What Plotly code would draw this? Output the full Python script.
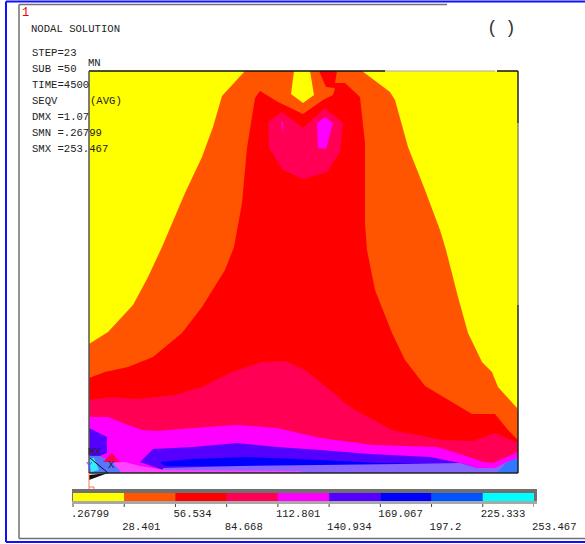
import plotly.graph_objects as go

levels = [0.26799, 28.401, 56.534, 84.668, 112.801, 140.934, 169.067, 197.2, 225.333, 253.467]
level_labels = [".26799", "28.401", "56.534", "84.668", "112.801", "140.934", "169.067", "197.2", "225.333", "253.467"]
band_colors = ["#FFFF00", "#FF5500", "#FF0000", "#FF0055", "#FF00FF", "#5500FF", "#0000FF", "#0055FF", "#00FFFF"]

info_lines = ["STEP=23", "SUB =50", "TIME=4500", "SEQV", "DMX =1.07", "SMN =.26799", "SMX =253.467"]
info_rows = [53, 69, 85, 101, 117, 133, 149]

domain_x = [89, 518, 518, 89]
domain_y = [71, 71, 473, 473]

orange_x = [89, 108, 133, 148, 162, 185, 202, 213, 222, 245, 362, 390, 395, 408, 425, 440, 446, 458, 468, 482, 492, 498, 517, 518, 518, 89]
orange_y = [344, 332, 305, 277, 247, 193, 157, 127, 96, 71, 71, 92, 100, 147, 190, 230, 250, 297, 333, 362, 372, 387, 408, 412, 473, 473]

pocket_x = [294, 310, 314, 303, 291]
pocket_y = [71, 71, 95, 103, 94]

red_x = [89, 105, 128, 153, 182, 202, 225, 234, 242, 247, 255, 260, 278, 303, 323, 333, 335, 326, 319, 337, 335, 345, 360, 365, 365, 367, 375, 392, 405, 425, 472, 495, 508, 518, 518, 89]
red_y = [378, 372, 367, 357, 333, 307, 270, 247, 203, 148, 98, 91, 102, 114, 100, 95, 88, 87, 71, 71, 83, 83, 97, 143, 223, 250, 290, 333, 360, 386, 414, 414, 430, 440, 473, 473]

crimson_x = [89, 112, 135, 175, 202, 232, 262, 285, 305, 330, 345, 355, 392, 443, 473, 495, 518, 518, 89]
crimson_y = [400, 397, 399, 395, 387, 372, 362, 361, 370, 390, 403, 410, 430, 440, 441, 433, 443, 473, 473]

heart_x = [282, 268, 269, 283, 303, 327, 340, 343, 325, 303]
heart_y = [112, 122, 148, 170, 179, 172, 152, 123, 108, 128]

spot_a_x = [317, 325, 333, 326, 318]
spot_a_y = [123, 117, 123, 149, 148]
spot_b_x = [281, 283, 283]
spot_b_y = [122, 122, 133]

magenta_x = [89, 108, 128, 142, 157, 193, 237, 277, 320, 373, 437, 463, 483, 493, 518, 518, 89]
magenta_y = [417, 417, 425, 430, 431, 428, 425, 428, 438, 445, 447, 455, 462, 463, 452, 473, 473]

violet_x = [140, 153, 193, 237, 277, 320, 370, 430, 460, 477, 163]
violet_y = [462, 449, 447, 443, 447, 450, 454, 457, 463, 468, 470]

blue_x = [160, 193, 247, 320, 380, 460, 470, 165]
blue_y = [462, 459, 457, 460, 463, 464, 466, 466]

peri_x = [163, 240, 320, 400, 460, 477, 495, 507, 518, 518, 163]
peri_y = [468, 466, 465, 464, 463, 468, 468, 462, 458, 473, 473]

pink_x = [105, 125, 140, 165, 300, 305, 105]
pink_y = [463, 462, 466, 470, 471, 473, 473]

hot_x = [507, 518, 518, 497]
hot_y = [462, 458, 473, 473]

left_x = [89, 107, 107, 97, 89]
left_y = [428, 437, 453, 457, 457]

left_light_x = [89, 100, 112, 122, 107, 89]
left_light_y = [456, 456, 462, 473, 473, 473]

cyan_x = [89, 94, 99, 91]
cyan_y = [459, 458, 470, 472]

tip_x = [112, 103, 120]
tip_y = [453, 462, 462]

fig = go.Figure()


def band(x, y, color):
    fig.add_trace(go.Scatter(x=x, y=y, fill="toself", fillcolor=color, mode="none",
                             hoverinfo="skip", showlegend=False))


def line(x, y, color, width=1):
    fig.add_trace(go.Scatter(x=x, y=y, mode="lines", line=dict(color=color, width=width),
                             hoverinfo="skip", showlegend=False))


def text(x, y, s, size=10.6, color="#222222", pos="middle right"):
    fig.add_trace(go.Scatter(x=x, y=y, mode="text", text=s, textposition=pos, cliponaxis=False,
                             textfont=dict(family="Liberation Mono", size=size, color=color),
                             hoverinfo="skip", showlegend=False))


band(domain_x, domain_y, "#FFFF00")
band(orange_x, orange_y, "#FF5500")
band(pocket_x, pocket_y, "#FFFF00")
band(red_x, red_y, "#FF0000")
band(crimson_x, crimson_y, "#FF0055")
band(heart_x, heart_y, "#FF0055")
band(spot_a_x, spot_a_y, "#FF00FF")
band(spot_b_x, spot_b_y, "#FF00FF")
band(magenta_x, magenta_y, "#FF00FF")
band(violet_x, violet_y, "#5500FF")
band(blue_x, blue_y, "#0000FF")
band(peri_x, peri_y, "#8866FF")
band(pink_x, pink_y, "#FF44FF")
band(hot_x, hot_y, "#3377FF")
band(left_x, left_y, "#5500FF")
band(left_light_x, left_light_y, "#5577FF")
band(cyan_x, cyan_y, "#33EEFF")
band(tip_x, tip_y, "#FF0055")

# domain outline
line([89, 385], [71, 71], "#111111", 1.5)
line([385, 495], [71, 71], "#AAAAAA", 1.2)
line([497, 518], [71, 71], "#111111", 1.5)
line([518, 518], [71, 123], "#222222", 1.5)
line([518, 518], [123, 305], "#8A8A55", 1.5)
line([518, 518], [305, 473], "#222222", 1.5)
line([89, 89], [71, 473], "#555555", 1.5)
line([89, 518], [473, 473], "#222222", 1.5)

# triad marks
line([90, 108], [458, 473], "#111111", 1)
fig.add_trace(go.Scatter(x=[89, 108, 89], y=[475, 473, 480], fill="toself", fillcolor="#111111",
                         mode="none", hoverinfo="skip", showlegend=False))
line([89, 89, 94, 94, 89], [473, 490, 490, 487, 487], "#FF7744", 1)

# colorbar frame
band([72, 537, 537, 72], [489, 489, 504, 504], "#707070")
band([72, 537, 537, 72], [501, 501, 504, 504], "#A8A8A8")

for i, c in enumerate(band_colors):
    fig.add_trace(go.Bar(x=[levels[i + 1] - levels[i]], base=[levels[i]], y=[497], width=[8],
                         orientation="h", marker=dict(color=c, line=dict(width=0)),
                         xaxis="x2", yaxis="y", hoverinfo="skip", showlegend=False))

for i, v in enumerate(levels):
    fig.add_trace(go.Scatter(x=[v, v], y=[504, 507], mode="lines", xaxis="x2", yaxis="y", cliponaxis=False,
                             line=dict(color="#444444", width=1), hoverinfo="skip", showlegend=False))
    fig.add_trace(go.Scatter(x=[v - 1.1], y=[514 if i % 2 == 0 else 527], mode="text",
                             text=[level_labels[i]], textposition="middle right",
                             cliponaxis=False, xaxis="x2", yaxis="y",
                             textfont=dict(family="Liberation Mono", size=10.6, color="#222222"),
                             hoverinfo="skip", showlegend=False))

# header text
text([22], [13], ["1"], size=12, color="#EE0000")
text([31], [29], ["NODAL SOLUTION"])
for s, r in zip(info_lines, info_rows):
    text([32], [r], [s])
text([90], [101], ["(AVG)"])
text([88], [63], ["MN"])
text([487], [28], ["("], size=18, color="#333333")
text([505], [28], [")"], size=18, color="#333333")
text([88], [452], ["MX"])
text([108], [465], ["X"])
text([86], [466], ["Y"], color="#5555FF")

frame = [
    dict(x0=6, x1=585, y0=1.5, y1=1.5, color="#1010FF", width=2),
    dict(x0=6, x1=6, y0=1.5, y1=542, color="#1010FF", width=2),
    dict(x0=6, x1=585, y0=542, y1=542, color="#1010FF", width=2),
    dict(x0=19, x1=447, y0=4.5, y1=4.5, color="#707070", width=1.5),
    dict(x0=19, x1=19, y0=4.5, y1=538.5, color="#707070", width=1.5),
    dict(x0=19, x1=585, y0=538.5, y1=538.5, color="#707070", width=1.5),
]

px_per_unit = (534 - 73) / (levels[-1] - levels[0])
fig.update_layout(
    width=585, height=544, margin=dict(l=0, r=0, t=0, b=0),
    paper_bgcolor="white", plot_bgcolor="rgba(0,0,0,0)", barmode="overlay",
    xaxis=dict(range=[0, 585], visible=False, fixedrange=True, domain=[0, 1]),
    yaxis=dict(range=[544, 0], visible=False, fixedrange=True, domain=[0, 1]),
    xaxis2=dict(range=[levels[0] - 5 / px_per_unit, levels[-1]], domain=[68 / 585, 534 / 585], visible=False,
                anchor="y", fixedrange=True),
    shapes=[dict(type="line", xref="x", yref="y", x0=f["x0"], x1=f["x1"], y0=f["y0"], y1=f["y1"],
                 line=dict(color=f["color"], width=f["width"])) for f in frame],
)

fig.write_html("out.html", config={"displayModeBar": False},
               post_script="document.body.style.margin='0';document.body.style.overflow='hidden';")
